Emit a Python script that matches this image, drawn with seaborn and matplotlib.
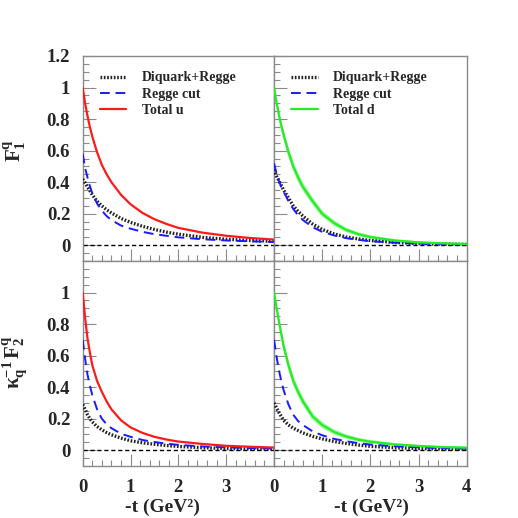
import numpy as np
import pandas as pd
import matplotlib
matplotlib.use("Agg")
import matplotlib.pyplot as plt
import seaborn as sns
from matplotlib.ticker import MultipleLocator, FuncFormatter, FixedLocator

# ---------------- data ----------------
t = [0, 0.05, 0.1, 0.15, 0.2, 0.3, 0.4, 0.5, 0.6, 0.8, 1.0, 1.25, 1.5, 1.75, 2.0, 2.5, 3.0, 3.5, 4.0]

f1u_total = [1.00, 0.90, 0.82, 0.75, 0.69, 0.59, 0.51, 0.45, 0.40, 0.32, 0.26, 0.205, 0.165, 0.135, 0.11, 0.08, 0.06, 0.046, 0.036]
f1u_diq   = [0.42, 0.395, 0.37, 0.345, 0.32, 0.28, 0.25, 0.225, 0.205, 0.17, 0.145, 0.12, 0.10, 0.083, 0.07, 0.05, 0.038, 0.03, 0.025]
f1u_cut   = [0.58, 0.49, 0.43, 0.375, 0.33, 0.265, 0.22, 0.185, 0.16, 0.125, 0.105, 0.085, 0.07, 0.06, 0.05, 0.038, 0.03, 0.025, 0.02]

f1d_total = [1.00, 0.91, 0.83, 0.76, 0.70, 0.59, 0.50, 0.43, 0.37, 0.28, 0.20, 0.14, 0.097, 0.07, 0.052, 0.03, 0.018, 0.012, 0.008]
f1d_diq   = [0.48, 0.44, 0.41, 0.38, 0.35, 0.30, 0.25, 0.215, 0.185, 0.135, 0.10, 0.072, 0.052, 0.04, 0.03, 0.018, 0.011, 0.007, 0.005]
f1d_cut   = [0.52, 0.46, 0.41, 0.37, 0.34, 0.28, 0.23, 0.19, 0.16, 0.115, 0.085, 0.062, 0.045, 0.034, 0.026, 0.016, 0.01, 0.007, 0.005]
f1d_err   = [0.0, 0.008, 0.012, 0.015, 0.017, 0.019, 0.02, 0.02, 0.019, 0.017, 0.015, 0.012, 0.01, 0.008, 0.007, 0.005, 0.004, 0.003, 0.003]

f2u_total = [1.00, 0.84, 0.71, 0.62, 0.54, 0.44, 0.37, 0.31, 0.26, 0.19, 0.145, 0.11, 0.085, 0.068, 0.055, 0.04, 0.028, 0.022, 0.017]
f2u_diq   = [0.29, 0.26, 0.225, 0.20, 0.18, 0.15, 0.13, 0.112, 0.098, 0.077, 0.06, 0.047, 0.038, 0.03, 0.024, 0.016, 0.011, 0.008, 0.006]
f2u_cut   = [0.70, 0.58, 0.48, 0.41, 0.35, 0.26, 0.20, 0.165, 0.14, 0.105, 0.085, 0.065, 0.052, 0.042, 0.034, 0.024, 0.018, 0.014, 0.011]

f2d_total = [1.00, 0.91, 0.82, 0.74, 0.66, 0.54, 0.44, 0.37, 0.31, 0.215, 0.16, 0.115, 0.087, 0.067, 0.054, 0.037, 0.027, 0.02, 0.016]
f2d_diq   = [0.30, 0.27, 0.24, 0.215, 0.19, 0.16, 0.14, 0.125, 0.11, 0.088, 0.072, 0.055, 0.043, 0.033, 0.025, 0.016, 0.011, 0.008, 0.006]
f2d_cut   = [0.70, 0.60, 0.51, 0.44, 0.38, 0.29, 0.225, 0.185, 0.16, 0.12, 0.095, 0.072, 0.057, 0.045, 0.036, 0.025, 0.018, 0.013, 0.01]
f2d_err   = [0.0, 0.008, 0.012, 0.015, 0.017, 0.019, 0.02, 0.02, 0.019, 0.017, 0.015, 0.012, 0.01, 0.008, 0.007, 0.005, 0.004, 0.003, 0.003]

legend_labels = ["Diquark+Regge", "Regge cut"]
y_labels = [r"$F_{1}^{q}$", r"$\kappa_{q}^{-1}\,F_{2}^{q}$"]
x_label = "-t (GeV²)"
x_ticks_left = [0, 1, 2, 3]
x_ticks_right = [0, 1, 2, 3, 4]
y_ticks_top = [0, 0.2, 0.4, 0.6, 0.8, 1.0, 1.2]
y_ticks_bottom = [0, 0.2, 0.4, 0.6, 0.8, 1.0]

# ---------------- style ----------------
sns.set_theme(style="white")
plt.rcParams["font.family"] = ["Liberation Serif", "DejaVu Serif"]
plt.rcParams["font.weight"] = "bold"
plt.rcParams["mathtext.fontset"] = "custom"
plt.rcParams["mathtext.rm"] = "Liberation Serif:bold"
plt.rcParams["mathtext.it"] = "Liberation Serif:bold"
plt.rcParams["mathtext.bf"] = "Liberation Serif:bold"
plt.rcParams["mathtext.default"] = "rm"

RED = "#ff1a1a"
GREEN = "#22ee22"
LGREEN = "#99f599"
BLUE = "#1a1aff"
FRAME = "#8a8a8a"

fig = plt.figure(figsize=(5.18, 5.18), dpi=100)
W = 518.0
def ax_rect(x0, x1, ytop, ybot):
    return [x0 / W, 1 - ybot / W, (x1 - x0) / W, (ybot - ytop) / W]

axes = {
    (0, 0): fig.add_axes(ax_rect(82.7, 274, 56, 261)),
    (0, 1): fig.add_axes(ax_rect(274, 466.7, 56, 261)),
    (1, 0): fig.add_axes(ax_rect(82.7, 274, 261, 466)),
    (1, 1): fig.add_axes(ax_rect(274, 466.7, 261, 466)),
}

panels = {
    (0, 0): (f1u_total, f1u_diq, f1u_cut, None, RED, "Total u"),
    (0, 1): (f1d_total, f1d_diq, f1d_cut, f1d_err, GREEN, "Total d"),
    (1, 0): (f2u_total, f2u_diq, f2u_cut, None, RED, "Total u"),
    (1, 1): (f2d_total, f2d_diq, f2d_cut, f2d_err, GREEN, "Total d"),
}

fmt = FuncFormatter(lambda v, p: ("%g" % round(v, 2)))

for (r, c), ax in axes.items():
    tot, diq, cut, err, col, lab = panels[(r, c)]
    df = pd.DataFrame({"t": t, "total": tot, "diq": diq, "cut": cut})
    ax.axhline(0, color="black", lw=1.0, ls=(0, (3, 2)), zorder=1)
    if err is not None:
        lo = np.array(tot) - np.array(err)
        hi = np.array(tot) + np.array(err)
        ax.fill_between(t, lo, hi, color=LGREEN, alpha=0.5, lw=0, zorder=2)
        ax.plot(t, lo, color=LGREEN, lw=0.8, zorder=2)
        ax.plot(t, hi, color=LGREEN, lw=0.8, zorder=2)
    sns.lineplot(data=df, x="t", y="diq", ax=ax, color="#222222", lw=2.4,
                 linestyle=(0, (0.5, 0.5)), label=legend_labels[0], zorder=3)
    sns.lineplot(data=df, x="t", y="cut", ax=ax, color=BLUE, lw=1.4,
                 linestyle=(0, (5, 3)), label=legend_labels[1], zorder=3)
    sns.lineplot(data=df, x="t", y="total", ax=ax, color=col, lw=1.6,
                 label=lab, zorder=4)

    ax.set_xlim(0, 4)
    ax.set_ylim(-0.1, 1.2)
    ax.set_xlabel("")
    ax.set_ylabel("")
    for s in ax.spines.values():
        s.set_color(FRAME)
        s.set_linewidth(1.0)
    ax.xaxis.set_major_locator(FixedLocator(x_ticks_left if c == 0 else x_ticks_right))
    ax.xaxis.set_minor_locator(MultipleLocator(0.2))
    ax.yaxis.set_major_locator(FixedLocator(y_ticks_top if r == 0 else y_ticks_bottom))
    ax.yaxis.set_minor_locator(MultipleLocator(0.05))
    ax.tick_params(which="both", direction="in", color=FRAME, width=0.8,
                   bottom=True, left=True, top=False, right=False)
    ax.tick_params(which="major", length=9)
    ax.tick_params(which="minor", length=4.5)
    ax.tick_params(axis="y", pad=9, labelsize=13.5)
    ax.tick_params(axis="x", pad=9, labelsize=13.5)
    ax.xaxis.set_major_formatter(fmt)
    ax.yaxis.set_major_formatter(fmt)
    for lbl in ax.get_xticklabels() + ax.get_yticklabels():
        lbl.set_fontweight("bold")
    if c == 1:
        ax.tick_params(labelleft=False)
    if r == 0:
        ax.tick_params(labelbottom=False)
    if r == 0:
        ax.legend(loc="upper left", bbox_to_anchor=(0.09, 0.925), frameon=False,
                  borderpad=0, borderaxespad=0, handlelength=1.9,
                  handletextpad=1.1, labelspacing=0.25,
                  prop={"family": "Liberation Serif", "weight": "bold", "size": 10})
    else:
        ax.get_legend().remove()

fig.text(15 / W, 1 - 150 / W, y_labels[0], rotation=90, ha="center", va="center",
         fontsize=15)
fig.text(15 / W, 1 - 362 / W, y_labels[1], rotation=90, ha="center", va="center",
         fontsize=15)
fig.text(162 / W, 2 / W, x_label, ha="center", va="bottom", fontsize=14,
         fontweight="bold")
fig.text(371 / W, 2 / W, x_label, ha="center", va="bottom", fontsize=14,
         fontweight="bold")

fig.savefig("out.png", dpi=100)
